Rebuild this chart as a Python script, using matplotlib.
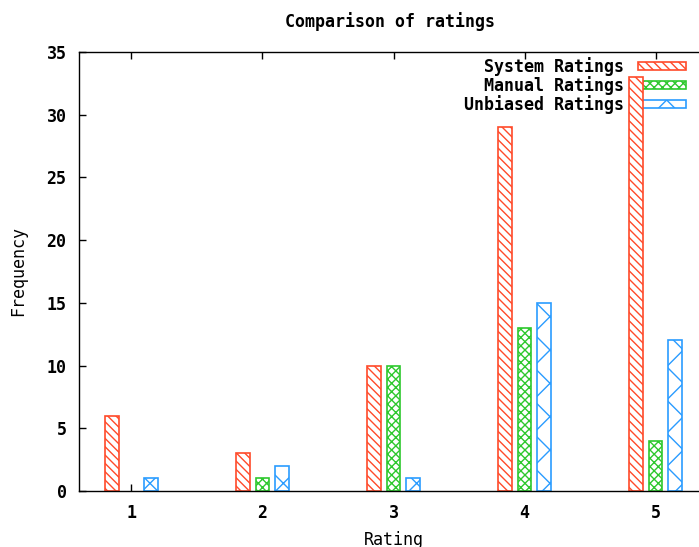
import numpy as np
import matplotlib
matplotlib.use("Agg")
import matplotlib.pyplot as plt

ratings = [1, 2, 3, 4, 5]
system_ratings = [6, 3, 10, 29, 33]
manual_ratings = [0, 1, 10, 13, 4]
unbiased_ratings = [1, 2, 1, 15, 12]

series = [
    ("System Ratings", system_ratings, "#ff4a2a", "\\\\\\\\"),
    ("Manual Ratings", manual_ratings, "#2ec82e", "xxxx"),
    ("Unbiased Ratings", unbiased_ratings, "#2a9cff", "x"),
]

plt.rcParams["font.family"] = "DejaVu Sans Mono"
plt.rcParams["font.weight"] = "bold"
plt.rcParams["font.size"] = 12
plt.rcParams["hatch.linewidth"] = 1.0

fig = plt.figure(figsize=(6.99, 5.47), dpi=100)
ax = fig.add_axes([79 / 699, 56 / 547, 629 / 699, 439 / 547])

x = np.array(ratings, dtype=float)
offsets = [-0.15, 0.0, 0.15]
width = 0.105
for (label, vals, color, hatch), off in zip(series, offsets):
    vals = np.array(vals, dtype=float)
    # empty bars are not drawn at all in the original
    vals = np.where(vals > 0, vals, np.nan)
    ax.bar(x + off, vals, width, facecolor="white", edgecolor=color,
           hatch=hatch, linewidth=1.2, label=label, zorder=2)

ax.set_xlim(0.6, 5.4)
ax.set_ylim(0, 35)
ax.set_xticks(ratings)
ax.set_yticks(range(0, 36, 5))
ax.tick_params(direction="in", length=5, width=1, top=True, right=True)
ax.tick_params(axis="x", pad=9)
ax.tick_params(axis="y", pad=9)
for s in ax.spines.values():
    s.set_linewidth(1.0)

ax.set_xlabel("Rating")
ax.xaxis.set_label_coords(0.5, -0.09)
ax.set_ylabel("Frequency")
ax.yaxis.set_label_coords(-0.097, 0.5)
ax.yaxis.label.set_va("center")

fig.text(390 / 699, 1 - 22 / 547, "Comparison of ratings", ha="center", va="center")

leg = ax.legend(loc="upper right", bbox_to_anchor=((686 - 79) / 629, 1 - 5 / 439),
                frameon=False, markerfirst=False, handlelength=2.9,
                handleheight=0.42, handletextpad=0.8, labelspacing=0.0,
                borderaxespad=0, borderpad=0)
# the tall bar at 5 is drawn over the key, as in the original
leg.set_zorder(1)

fig.savefig("out.png", dpi=100)
